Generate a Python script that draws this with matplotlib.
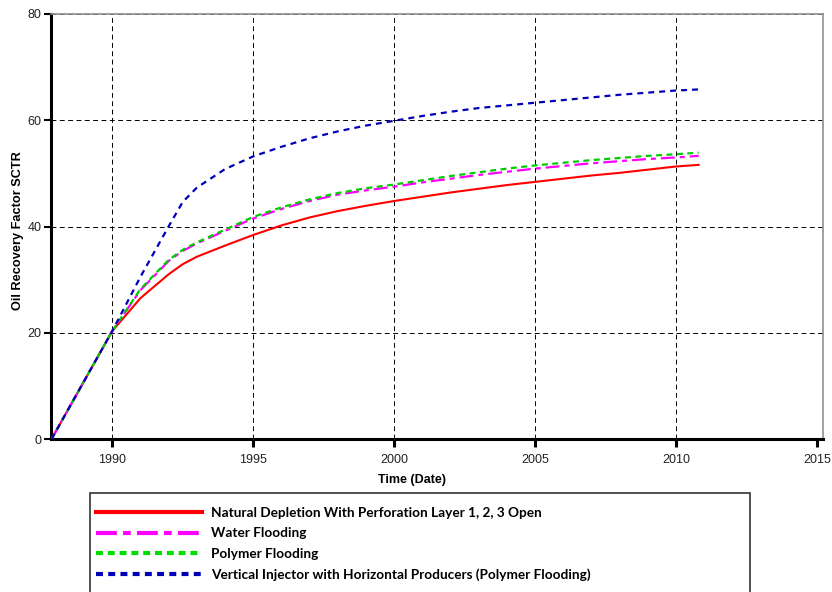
import matplotlib
matplotlib.use("Agg")
import matplotlib.pyplot as plt
from matplotlib.lines import Line2D
from matplotlib.patches import Rectangle

plt.rcParams['font.family'] = ['Liberation Sans', 'DejaVu Sans']
plt.rcParams['lines.scale_dashes'] = False

# time axis (years) and recovery factor values
years = [1987.85, 1990, 1991, 1992, 1992.5, 1993, 1994, 1995, 1996, 1997, 1998, 1999,
         2000, 2001, 2002, 2003, 2004, 2005, 2006, 2007, 2008, 2009, 2010, 2010.8]
natural = [0, 20.3, 26.5, 31.0, 32.9, 34.3, 36.4, 38.4, 40.2, 41.7, 42.9, 43.9,
           44.8, 45.6, 46.4, 47.1, 47.8, 48.4, 49.0, 49.6, 50.1, 50.7, 51.3, 51.6]
water = [0, 20.3, 28.0, 33.5, 35.4, 36.8, 39.2, 41.5, 43.3, 44.8, 46.0, 46.8,
         47.5, 48.3, 49.0, 49.7, 50.3, 50.9, 51.4, 51.9, 52.3, 52.7, 53.0, 53.3]
polymer = [0, 20.3, 28.2, 33.7, 35.6, 37.0, 39.4, 41.8, 43.6, 45.1, 46.3, 47.2,
           47.9, 48.7, 49.5, 50.2, 50.9, 51.5, 52.0, 52.5, 52.9, 53.3, 53.6, 53.9]
horizontal = [0, 20.3, 30.5, 40.0, 44.6, 47.3, 50.8, 53.2, 55.0, 56.6, 57.9, 59.0,
              59.9, 60.8, 61.6, 62.3, 62.8, 63.3, 63.8, 64.3, 64.8, 65.2, 65.6, 65.8]

labels = ["Natural Depletion With Perforation Layer 1, 2, 3 Open",
          "Water Flooding",
          "Polymer Flooding",
          "Vertical Injector with Horizontal Producers (Polymer Flooding)"]

fig = plt.figure(figsize=(8.32, 5.92), dpi=100)
ax = fig.add_axes([51/832, 1-439/592, 771.7/832, 425/592])

ax.plot(years, natural, color='#ff0000', lw=1.5, zorder=3)
ax.plot(years, water, color='#ff00ff', lw=1.6, dashes=(10, 3.6, 3.6, 3.6), zorder=4)
ax.plot(years, polymer, color='#00cc00', lw=1.6, dashes=(4.3, 3.2), zorder=5)
ax.plot(years, horizontal, color='#0000bb', lw=1.6, dashes=(4.3, 3.6), zorder=6)

ax.set_xlim(1987.83, 2015.2)
ax.set_ylim(0, 80)
ax.set_xticks([1990, 1995, 2000, 2005, 2010, 2015])
ax.set_yticks([0, 20, 40, 60, 80])
ax.grid(True, color='black', lw=0.7, dashes=(3.5, 2.5))
ax.xaxis.get_major_ticks()[-1].gridline.set_visible(False)

for s in ['left', 'bottom']:
    ax.spines[s].set_linewidth(2.2)
    ax.spines[s].set_color('black')
for s in ['top', 'right']:
    ax.spines[s].set_linewidth(1.2)
    ax.spines[s].set_color('#909090')

ax.tick_params(axis='x', direction='out', length=6, width=2.2, pad=5,
               labelsize=9, labelcolor='#222222')
ax.tick_params(axis='y', direction='out', length=5, width=1.5, pad=2,
               labelsize=9, labelcolor='#222222')

ax.set_xlabel("Time (Date)", fontsize=9, fontweight='bold')
ax.set_ylabel("Oil Recovery Factor SCTR", fontsize=9.2, fontweight='bold')
ax.xaxis.set_label_coords((412-51)/771.7, -(474-439)/425)
ax.yaxis.set_label_coords((24-51)/771.7, 1-(231-14)/425)

# legend box below the chart
fig.patches.append(Rectangle((90/832, -10/592), 660/832, 109/592,
                             transform=fig.transFigure, fill=False,
                             edgecolor='#333333', lw=1.2))
handles = [Line2D([], [], color='#ff0000', lw=3),
           Line2D([], [], color='#ff00ff', lw=3, dashes=(15, 4.5, 5.5, 4.5)),
           Line2D([], [], color='#00dd00', lw=3, dashes=(5, 3.5)),
           Line2D([], [], color='#0000bb', lw=3, dashes=(5, 3.8))]
fig.legend(handles, labels, loc='upper left', bbox_to_anchor=(96/832, 1-507/592),
           frameon=False, borderpad=0, borderaxespad=0, handlelength=7.8,
           handletextpad=0.65, labelspacing=0.62,
           prop={'family': 'Lato', 'weight': 'bold', 'size': 9.8})

fig.savefig("out.png", dpi=100)
